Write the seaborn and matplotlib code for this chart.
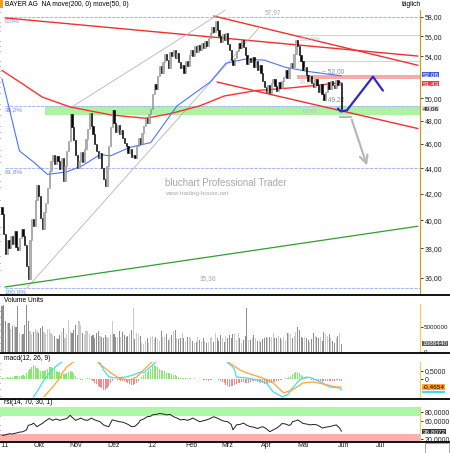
import numpy as np
import pandas as pd
import matplotlib
matplotlib.use("Agg")
import matplotlib.pyplot as plt
import matplotlib.transforms as mtrans
from matplotlib.lines import Line2D
from matplotlib.patches import Rectangle
from matplotlib.ticker import FixedLocator, NullFormatter
import seaborn as sns

# daily closes, BAYER AG, 05.09.2011 - 01.06.2012
first_open = 41.0
close = [
    40.5, 39.0, 37.6, 38.6, 38.0, 38.9, 38.3, 39.2, 38.1, 37.9, 38.7, 39.4, 38.9, 38.2,
    36.8, 35.9, 38.6, 40.1, 39.6, 41.5, 42.7, 41.8, 40.2, 39.4, 40.6, 41.3, 42.4, 43.8,
    44.6, 45.1, 44.3, 45.0, 44.6, 43.9, 44.8, 43.0, 44.2, 45.4, 46.2, 48.6, 47.4, 46.3,
    45.1, 44.0, 44.6, 45.3, 44.5, 45.6, 46.4, 47.3, 48.7, 47.5, 46.8, 46.0, 45.4, 44.8,
    45.2, 44.0, 43.1, 42.6, 44.2, 45.8, 47.4, 48.9, 47.8, 47.0, 47.6, 46.8, 47.2, 46.5,
    46.1, 45.8, 45.2, 45.6, 44.9, 45.1, 44.8, 45.8, 46.5, 46.0, 46.9, 47.5, 48.2, 47.8,
    48.6, 49.0, 50.4, 51.3, 50.8, 52.1, 53.0, 52.4, 53.4, 54.2, 53.6, 52.8, 54.4, 54.0,
    54.6, 53.8, 54.3, 53.4, 52.8, 53.1, 52.4, 53.5, 53.0, 54.1, 54.6, 54.0, 55.0, 54.4,
    55.1, 54.6, 55.3, 54.8, 55.5, 55.0, 55.8, 56.3, 56.9, 56.4, 57.6, 56.6, 56.0, 55.4,
    56.2, 55.6, 56.3, 55.2, 54.6, 53.6, 53.1, 53.8, 54.5, 55.3, 54.8, 55.6, 54.9, 54.1,
    53.2, 53.8, 53.4, 53.9, 52.9, 53.5, 52.6, 53.1, 52.4, 51.6, 51.0, 50.6, 51.2, 50.5,
    51.4, 51.8, 51.1, 50.7, 51.5, 50.9, 51.6, 52.0, 52.6, 51.9, 52.8, 53.3, 52.9, 54.2,
    55.6, 55.0, 54.1, 53.5, 52.6, 52.9, 52.2, 51.6, 52.1, 51.4, 51.0, 51.8, 51.2, 50.6,
    51.3, 50.4, 49.8, 50.6, 51.5, 50.8, 51.6, 51.2, 50.9, 51.7, 51.2, 51.4, 49.06,
]
# volume in millions
volume_mio = [
    9.2, 9.5, 6.2, 5.9, 5.8, 4.6, 5.2, 5.5, 5.0, 9.2, 3.8, 3.4, 3.6, 5.4, 9.5, 6.2, 4.3,
    3.6, 4.1, 4.7, 4.2, 3.8, 4.8, 5.2, 4.0, 3.6, 4.7, 4.7, 3.9, 3.5, 3.2, 2.8, 2.7, 3.5,
    4.0, 4.8, 2.8, 3.6, 6.5, 4.2, 3.9, 4.5, 5.5, 3.4, 6.2, 5.5, 3.9, 3.5, 4.2, 4.2, 3.6,
    3.3, 3.5, 2.9, 3.8, 4.2, 3.3, 3.0, 2.8, 3.5, 3.1, 2.8, 3.5, 6.2, 3.6, 3.1, 3.0, 4.2,
    3.0, 4.0, 3.5, 3.1, 3.3, 3.6, 4.5, 8.9, 2.7, 3.9, 3.6, 3.3, 1.8, 1.6, 2.3, 2.9, 1.8,
    3.0, 3.3, 2.7, 3.1, 2.7, 2.3, 4.2, 3.0, 3.1, 3.6, 2.5, 2.8, 3.5, 4.2, 4.5, 2.9, 2.7,
    2.9, 3.9, 2.9, 2.3, 3.1, 3.1, 2.8, 2.3, 1.8, 2.1, 3.1, 2.5, 2.1, 2.9, 2.3, 1.8, 2.1,
    2.8, 3.1, 2.1, 3.8, 2.9, 2.3, 3.5, 2.9, 2.1, 3.3, 2.9, 3.5, 2.9, 3.6, 3.6, 2.5, 3.8,
    2.8, 1.8, 2.5, 3.3, 8.9, 2.5, 2.5, 2.8, 3.5, 2.9, 2.3, 2.5, 2.1, 2.7, 2.9, 3.1, 2.9,
    3.1, 3.1, 3.8, 2.8, 2.9, 3.3, 2.9, 2.5, 3.1, 2.3, 3.8, 3.8, 3.6, 2.8, 3.3, 4.1, 5.1,
    4.5, 3.1, 2.9, 3.1, 2.8, 2.5, 2.1, 2.7, 3.8, 3.3, 3.1, 2.8, 3.1, 2.3, 4.1, 3.6, 3.3,
    3.6, 2.8, 2.3, 1.8, 2.8, 3.3, 3.8, 1.69,
]
macd_hist = [
    0.05, 0.08, 0.10, 0.12, 0.10, 0.12, 0.15, 0.18, 0.20, 0.22, 0.20, 0.22, 0.25, 0.20,
    0.35, 0.50, 0.60, 0.75, 0.85, 0.82, 0.70, 0.60, 0.50, 0.48, 0.50, 0.55, 0.62, 0.72,
    0.75, 0.70, 0.60, 0.50, 0.45, 0.42, 0.38, 0.30, 0.32, 0.38, 0.45, 0.50, 0.42, 0.30,
    0.18, 0.08, 0.02, -0.04, -0.02, 0.03, 0.02, 0.05, 0.08, -0.05, -0.12, -0.20, -0.30,
    -0.40, -0.48, -0.55, -0.62, -0.65, -0.55, -0.40, -0.25, -0.10, 0.00, 0.02, -0.03,
    -0.06, -0.10, -0.08, -0.12, -0.18, -0.25, -0.30, -0.35, -0.33, -0.28, -0.20, -0.10,
    0.02, 0.15, 0.25, 0.35, 0.45, 0.55, 0.65, 0.80, 0.85, 0.80, 0.72, 0.65, 0.58, 0.50,
    0.48, 0.40, 0.35, 0.38, 0.32, 0.28, 0.25, 0.20, 0.15, 0.10, 0.06, 0.08, 0.10, 0.08,
    0.05, 0.06, 0.04, 0.05, 0.03, 0.02, 0.02, 0.00, -0.02, -0.04, -0.06, -0.08, -0.05,
    -0.02, 0.02, 0.04, 0.02, -0.05, -0.10, -0.18, -0.25, -0.32, -0.40, -0.45, -0.42,
    -0.38, -0.32, -0.28, -0.22, -0.20, -0.18, -0.15, -0.20, -0.22, -0.20, -0.15, -0.12,
    -0.10, -0.12, -0.15, -0.18, -0.20, -0.25, -0.28, -0.30, -0.28, -0.25, -0.22, -0.18,
    -0.15, -0.12, -0.10, -0.06, -0.02, 0.02, 0.06, 0.10, 0.15, 0.22, 0.30, 0.38, 0.45,
    0.42, 0.35, 0.25, 0.18, 0.10, 0.05, 0.02, 0.00, -0.02, -0.05, -0.06, -0.08, -0.10,
    -0.12, -0.15, -0.12, -0.10, -0.08, -0.10, -0.12, -0.10, -0.08, -0.06, -0.05, -0.08,
    -0.12,
]
macd_x = [18, 20, 23, 27, 31, 35, 40, 48, 55, 56, 58, 61, 64, 71, 75, 79, 81, 86, 88, 92,
          100, 110, 120, 126, 129, 132, 133, 134, 140, 146, 151, 155, 160, 163, 166, 170,
          174, 177, 182, 187, 193, 194]
macd_y = [-1.05, -0.75, -0.22, 0.38, 0.80, 1.10, 1.40, 1.50, 1.20, 1.00, 0.56, 0.16, 0.08,
          0.14, 0.26, 0.44, 0.40, 0.86, 1.06, 1.60, 2.00, 1.90, 1.70, 1.30, 1.00, 0.74,
          0.56, 0.14, 0.08, -0.04, -0.22, -0.75, -1.05, -0.95, -0.53, -0.04, 0.14, 0.08,
          -0.16, -0.46, -0.52, -0.64]
signal_x = [24, 29, 33, 35, 37, 40, 45, 50, 54, 55, 58, 62, 67, 73, 77, 81, 85, 90, 100,
            110, 120, 127, 130, 136, 140, 149, 155, 161, 166, 172, 178, 186, 191, 194]
signal_y = [-1.05, -0.46, 0.06, 0.46, 0.74, 0.98, 1.30, 1.40, 1.25, 0.98, 0.74, 0.40, 0.06,
            -0.04, 0.14, 0.56, 0.98, 1.40, 1.80, 1.90, 1.80, 1.30, 0.98, 0.56, 0.38, 0.08,
            -0.22, -0.82, -0.64, -0.22, -0.16, -0.34, -0.46, -0.47]
rsi_x = [0, 2, 4, 6, 8, 10, 12, 13, 14, 15, 17, 18, 20, 22, 23, 25, 27, 29, 31, 33, 35, 37,
         39, 40, 42, 44, 45, 47, 49, 51, 53, 56, 58, 60, 61, 63, 65, 67, 69, 71, 73, 74, 76,
         78, 79, 81, 83, 85, 86, 88, 90, 92, 94, 96, 98, 100, 102, 104, 106, 108, 109, 111,
         113, 115, 117, 119, 121, 123, 125, 127, 129, 131, 132, 134, 136, 138, 140, 142, 144,
         146, 148, 149, 151, 153, 155, 157, 159, 160, 162, 164, 165, 166, 168, 169, 171, 172,
         174, 176, 178, 180, 182, 183, 185, 187, 189, 191, 193, 194]
rsi_y = [28, 29, 31.5, 31, 33, 35, 36, 38, 40, 50, 52, 55, 47, 52, 54, 60, 65, 61, 64, 61,
         63, 65, 72, 68, 61, 64, 66, 62, 61, 66, 62, 58, 51, 48, 47, 62, 60, 58, 57, 54, 50,
         47, 48, 55, 61, 64, 69, 70, 73, 74, 76, 75, 73, 74, 69, 66, 62, 63, 61, 64, 66, 62,
         58, 60, 62, 65, 69, 66, 62, 59, 58, 52, 40, 51, 52, 55, 50, 47, 46, 43, 46, 47, 43,
         36, 40, 44, 50, 54, 53, 50, 51, 58, 60, 62, 57, 54, 53, 51, 52, 51, 47, 44, 46, 47,
         49, 51, 44, 36.8]
ma200_x = [0, 12, 23, 39, 62, 82, 96, 113, 127, 145, 165, 194]
ma200_y = [52.6, 51.3, 50.1, 49.2, 48.5, 48.2, 48.6, 49.3, 50.2, 50.7, 50.95, 51.43]
ma50_x = [0, 10, 18, 26, 37, 46, 56, 62, 73, 85, 100, 119, 128, 139, 150, 162, 175, 194]
ma50_y = [51.8, 45.4, 44.5, 43.5, 43.7, 44.2, 45.1, 45.0, 45.7, 46.1, 49.3, 51.5, 53.3, 53.7,
          53.6, 52.9, 52.5, 52.08]

# drawn analysis objects (bar index, price)
red_long = ([1.7, 237.7], [57.9, 54.0])
red_upper = ([121.0, 237.7], [58.1, 53.1])
red_lower = ([122.9, 237.7], [51.5, 47.3])
gray_trend1 = ([14.3, 147.4], [35.36, 56.95])
gray_trend2 = ([38.9, 127.4], [49.1, 58.7])
green_trend = ([1.7, 237.7], [35.41, 39.57])
blue_path = ([192, 193.7, 197.1, 212, 217.7], [49.06, 48.8, 48.9, 52.0, 50.7])
gray_path = ([193.1, 199.4, 209.1], [48.3, 48.3, 44.0])
fib_levels = [57.97, 49.33, 43.99, 35.36]
fib_labels = ["0,0%", "38,2%", "61,8%", "100,0%"]
fib2_levels = [56.15, 53.5, 49.22]
month_labels = ["'11", "Okt", "Nov", "Dez", "'12", "Feb", "Mrz", "Apr", "Mai", "Jun", "Jul"]

sns.set_theme(style="white")
plt.rcParams["font.family"] = ["Liberation Sans", "DejaVu Sans"]

W, H = 450.0, 453.0
FS = 5.0


def px_box(x0, y0, x1, y1):
    return [x0 / W, 1 - y1 / H, (x1 - x0) / W, (y1 - y0) / H]


fig = plt.figure(figsize=(4.5, 4.53), dpi=100)
fig.patch.set_facecolor("white")
ax = fig.add_axes(px_box(0, 9, 420, 294))
ax_vol = fig.add_axes(px_box(0, 304, 420, 353), sharex=ax)
ax_macd = fig.add_axes(px_box(0, 362, 420, 398), sharex=ax)
ax_rsi = fig.add_axes(px_box(0, 407, 420, 441), sharex=ax)

n = len(close)
idx = np.arange(n)
opens = np.r_[first_open, close[:-1]]
closes = np.asarray(close)
up = closes >= opens
XMAX = 238.9

# ---- price panel ----
ax.set_yscale("log")
ax.set_ylim(34.96, 58.85)
ax.set_xlim(-1.14, XMAX)
ax.axhspan(48.5, 49.33, xmin=(24.6 + 1.14) / (XMAX + 1.14), xmax=1, color="#aef2a4", lw=0, zorder=0)
ax.axhspan(51.78, 52.2, xmin=(168.6 + 1.14) / (XMAX + 1.14), xmax=1, color="#f7aaaa", lw=0, zorder=0)
for lev in fib_levels:
    ax.plot([1.7, XMAX], [lev, lev], color="#a9b9f6", lw=0.8, ls=(0, (3, 1)), zorder=1)
for lev, lab in zip(fib_levels, fib_labels):
    ax.annotate(lab, (1.7, lev), xytext=(0, -1), textcoords="offset points", va="top",
                ha="left", fontsize=4.6, color="#6f8cf0")
for lev in fib2_levels:
    ax.plot([169, XMAX], [lev, lev], color="#d4d4d4", lw=0.8, zorder=1)
ax.annotate("100,0%", (169.5, 56.15), xytext=(0, -1), textcoords="offset points", va="top",
            fontsize=4.6, color="#c0c0c0")
ax.annotate("38,2%", (169.5, 51.87), xytext=(0, -1), textcoords="offset points", va="top",
            fontsize=4.6, color="#d0d0d0")
ax.annotate("0,0%", (172, 49.22), xytext=(0, -1), textcoords="offset points", va="top",
            fontsize=4.6, color="#c0c0c0")
ax.annotate("~ 52,00", (183, 52.0), xytext=(0, 1), textcoords="offset points", va="bottom",
            fontsize=4.8, color="#909090")
ax.annotate("~ 49,22", (183, 49.4), xytext=(0, 1), textcoords="offset points", va="bottom",
            fontsize=4.8, color="#909090")
ax.annotate("57,97", (150, 57.97), xytext=(0, 1), textcoords="offset points", va="bottom",
            fontsize=4.8, color="#a8a8a8")
ax.annotate("35,36", (113, 35.36), xytext=(0, 4), textcoords="offset points", va="bottom",
            fontsize=4.8, color="#a8a8a8")

ax.plot(*red_long, color="#f03030", lw=1.0, zorder=2)
ax.plot(*red_upper, color="#f03030", lw=1.0, zorder=2)
ax.plot(*red_lower, color="#f03030", lw=1.0, zorder=2)
ax.plot(*gray_trend1, color="#b4b4b4", lw=0.6, zorder=2)
ax.plot(*gray_trend2, color="#b4b4b4", lw=0.6, zorder=2)
ax.plot(*green_trend, color="#2f9f2f", lw=0.9, zorder=2)
sns.lineplot(x=ma200_x, y=ma200_y, ax=ax, color="#ff3030", lw=1.0, zorder=3)
sns.lineplot(x=ma50_x, y=ma50_y, ax=ax, color="#4a74ff", lw=0.8, zorder=3)

body_lo = np.minimum(opens, closes)
body_hi = np.maximum(opens, closes)
ax.bar(idx, body_hi - body_lo, bottom=body_lo, width=0.8,
       color=np.where(up, "#b0b0b0", "#000000"),
       edgecolor=np.where(up, "#8a8a8a", "#000000"), lw=0.4, zorder=4)

ax.plot(*blue_path, color="#2b2bc4", lw=1.6, zorder=5, solid_capstyle="round")
ax.plot(gray_path[0][:2], gray_path[1][:2], color="#b8b8b8", lw=1.6, zorder=5)
ax.annotate("", xy=(gray_path[0][2], gray_path[1][2]), xytext=(gray_path[0][1], gray_path[1][1]),
            arrowprops=dict(arrowstyle="->", color="#b8b8b8", lw=1.6, mutation_scale=14),
            zorder=5)

# 52,00 sits under the 52,08 value tag, as on the original scale
ticks = [t for t in range(36, 59, 2) if t != 52]
ax.yaxis.tick_right()
ax.set_yticks(ticks)
ax.set_yticklabels([f"{t:.2f}".replace(".", ",") for t in ticks])
ax.yaxis.set_minor_locator(FixedLocator(np.arange(35.5, 58.6, 0.5)))
ax.yaxis.set_minor_formatter(NullFormatter())
ax.tick_params(axis="y", which="major", right=True, length=2, width=0.6, pad=1.2,
               labelsize=FS, colors="#202020")
ax.tick_params(axis="y", which="minor", left=True, right=False, length=2, width=0.5,
               color="#404040")

# ---- volume ----
vol_col = np.where(up, "#cacaca", "#8e8e8e")
ax_vol.bar(idx, volume_mio, width=0.6, color=vol_col, lw=0)
ax_vol.set_ylim(-0.2, 9.6)
ax_vol.yaxis.tick_right()
ax_vol.set_yticks([0, 5])
ax_vol.set_yticklabels(["0", "5000000"])
ax_vol.yaxis.set_minor_locator(FixedLocator(np.arange(0.5, 9.6, 1.3)))

# ---- macd ----
hist_col = ["#86e86c" if v >= 0 else "#f28a8a" for v in macd_hist]
ax_macd.bar(idx, macd_hist, width=0.6, color=hist_col, lw=0)
sns.lineplot(x=macd_x, y=macd_y, ax=ax_macd, color="#3fe0f0", lw=0.9)
sns.lineplot(x=signal_x, y=signal_y, ax=ax_macd, color="#ffa43a", lw=0.9)
ax_macd.set_ylim(-1.127, 1.042)
ax_macd.yaxis.tick_right()
ax_macd.set_yticks([0, 0.5])
ax_macd.set_yticklabels(["0", "0,5000"])
ax_macd.yaxis.set_minor_locator(FixedLocator(np.arange(-1.0, 1.05, 0.4)))

# ---- rsi ----
ax_rsi.axhspan(70, 100, color="#aef7a6", lw=0, zorder=0)
ax_rsi.axhspan(0, 30, color="#fbb0b0", lw=0, zorder=0)
sns.lineplot(x=rsi_x, y=rsi_y, ax=ax_rsi, color="#202020", lw=0.7)
ax_rsi.set_ylim(15.6, 90.3)
ax_rsi.yaxis.tick_right()
ax_rsi.set_yticks([20, 60, 80])
ax_rsi.set_yticklabels(["20,0000", "60,0000", "80,0000"])
ax_rsi.yaxis.set_minor_locator(FixedLocator(np.arange(20, 90, 10)))

for a in (ax_vol, ax_macd, ax_rsi):
    a.yaxis.set_minor_formatter(NullFormatter())
    a.tick_params(axis="y", which="major", length=2, width=0.6, pad=1.2, labelsize=FS,
                  colors="#202020")
    a.tick_params(axis="y", which="minor", left=True, right=False, length=2, width=0.5,
                  color="#404040")
ax_vol.tick_params(axis="y", which="major", labelsize=4.5, pad=0.8)

# month axis
days = pd.bdate_range("2011-09-05", periods=n)
cal = pd.bdate_range("2011-09-01", "2012-07-31")
firsts = cal.to_series().groupby([cal.year, cal.month]).first()
month_pos = [np.busday_count(days[0].date(), d.date()) + 1.0 for d in firsts]
ax_rsi.set_xticks(month_pos)
ax_rsi.set_xticklabels(month_labels)
ax_rsi.tick_params(axis="x", bottom=False, length=0, labelbottom=True, pad=1.0,
                   labelsize=FS, colors="#202020")
ax_rsi.get_xticklabels()[0].set_ha("left")
for a in (ax, ax_vol, ax_macd):
    a.tick_params(axis="x", bottom=False, length=0, labelbottom=False)
for a in (ax, ax_vol, ax_macd, ax_rsi):
    a.set_xlabel("")
    a.set_ylabel("")
    a.set_facecolor("white")
    for s in ("top", "left", "bottom"):
        a.spines[s].set_visible(False)
    a.spines["right"].set_color("#e8cf6a")
    a.spines["right"].set_linewidth(0.9)
ax.spines["right"].set_linestyle((0, (1, 1)))
ax.spines["right"].set_color("#c8a020")
ax_vol.set_xlim(-1.14, XMAX)


# value boxes on the right scale
def value_box(a, y, text, fc, tc):
    tr = mtrans.blended_transform_factory(a.transAxes, a.transData)
    a.text(1.006, y, text, transform=tr, fontsize=4.6, color=tc, va="center", ha="left",
           bbox=dict(boxstyle="square,pad=0.02", fc=fc, ec="none"), zorder=10, clip_on=False)


value_box(ax, 52.2, "52,08", "#3c5ef0", "white")
value_box(ax, 51.33, "51,43", "#f03a3a", "white")
value_box(ax, 49.06, "49,06", "#d4d4d4", "black")
value_box(ax_vol, 1.69, "1688440", "#5a5a5a", "white")
value_box(ax_macd, -0.4654, "-0,4654", "#ffa43a", "black")
value_box(ax_rsi, 36.8, "36,8072", "#3a3a3a", "white")
# signal value tag peeking out below the orange one
fig.add_artist(Rectangle((422 / W, 1 - 393 / H), 23 / W, 2 / H, color="#40d8ea", lw=0))

# panel separators and labels
for y in (295, 353, 398.5, 441.5):
    fig.add_artist(Line2D([0, 1], [1 - y / H] * 2, color="black", lw=1.3))
fig.add_artist(Rectangle((0, 1 - 8 / H), 3 / W, 8 / H, color="#f59a1e", lw=0))
fig.add_artist(Rectangle((425 / W, 0), 24 / W, 10 / H, fc="white", ec="#9a9a9a", lw=0.6))
fig.text(5 / W, 1 - 4.5 / H, "BAYER AG  NA move(200, 0) move(50, 0)", fontsize=4.8,
         va="center", ha="left", color="black")
fig.text(402 / W, 1 - 5 / H, "täglich", fontsize=4.8, va="center", ha="left", color="black")
fig.text(4 / W, 1 - 300 / H, "Volume Units", fontsize=4.8, va="center", color="black")
fig.text(4 / W, 1 - 358.5 / H, "macd(12, 26, 9)", fontsize=4.8, va="center", color="black")
fig.text(4 / W, 1 - 402.5 / H, "rsi(14, 70, 30, 1)", fontsize=4.8, va="center", color="black")
fig.text(165 / W, 1 - 183 / H, "bluchart Professional Trader", fontsize=7, va="center",
         color="#a8a8a8")
fig.text(165 / W, 1 - 194 / H, "www.trading-house.net", fontsize=4.5, va="center",
         color="#a8a8a8")

fig.savefig("out.png", dpi=100, facecolor="white")
